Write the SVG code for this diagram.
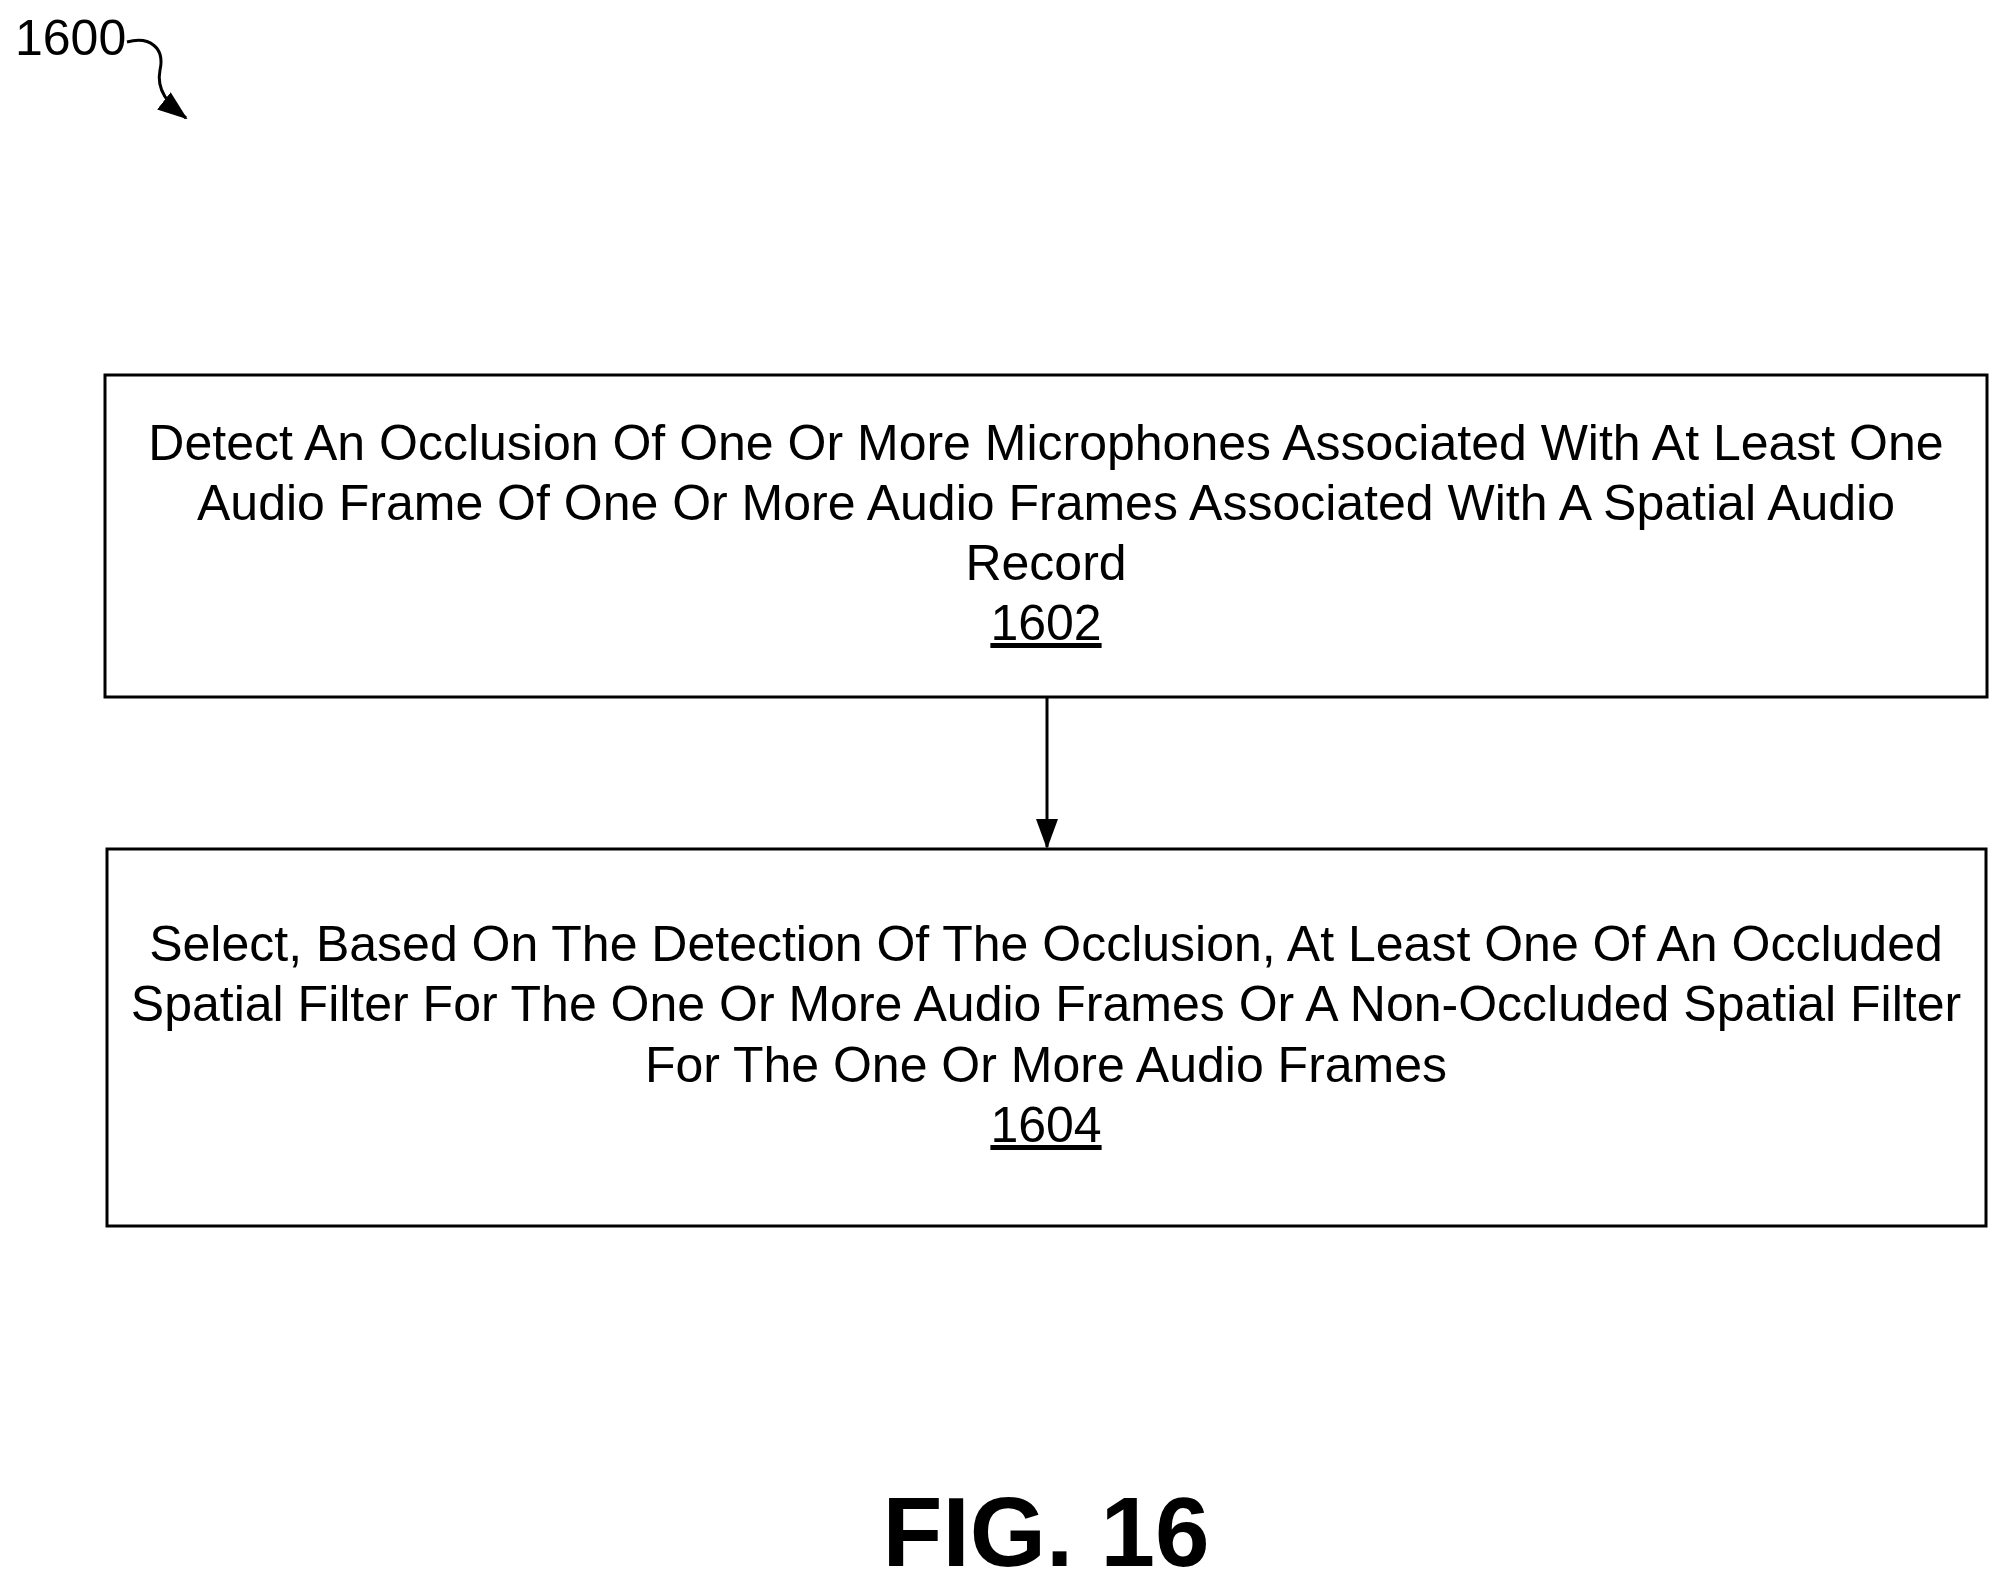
<svg xmlns="http://www.w3.org/2000/svg" width="2010" height="1583" viewBox="0 0 2010 1583">
<style>
.box{fill:#fff;stroke:#000;stroke-width:3}
.t{font-family:"Liberation Sans",Arial,sans-serif;font-size:50px;text-anchor:middle;fill:#000}
.c{stroke:#000;stroke-width:3;fill:none}
</style>
<defs>
<marker id="ah2" markerWidth="30" markerHeight="30" refX="28" refY="15" orient="auto" markerUnits="userSpaceOnUse" viewBox="0 0 30 30"><path d="M0,4 L30,15 L0,26 z" fill="#000"/></marker></defs>
<rect width="2010" height="1583" fill="#fff"/>
<g id="label1600">
<text x="15" y="55" style="font-family:'Liberation Sans',Arial,sans-serif;font-size:50px">1600</text>
<path class="c" d="M127,42 C150,36 165,48 160,70 C156,90 168,104 186,118" stroke-width="2.5" marker-end="url(#ah2)"/>
</g>
<g id="n1602">
<rect class="box" x="105" y="375" width="1882" height="322"/>
<text class="t" x="1046" y="460">Detect An Occlusion Of One Or More Microphones Associated With At Least One</text>
<text class="t" x="1046" y="520">Audio Frame Of One Or More Audio Frames Associated With A Spatial Audio</text>
<text class="t" x="1046" y="580">Record</text>
<text class="t" x="1046" y="640" text-decoration="underline">1602</text>
</g>
<g id="n1604">
<rect class="box" x="107" y="849" width="1879" height="377"/>
<text class="t" x="1046" y="961">Select, Based On The Detection Of The Occlusion, At Least One Of An Occluded</text>
<text class="t" x="1046" y="1021">Spatial Filter For The One Or More Audio Frames Or A Non-Occluded Spatial Filter</text>
<text class="t" x="1046" y="1082">For The One Or More Audio Frames</text>
<text class="t" x="1046" y="1142" text-decoration="underline">1604</text>
</g>
<g id="connectors">
<line class="c" x1="1047" y1="697" x2="1047" y2="847" marker-end="url(#ah2)"/>
</g>
<text x="1046" y="1566" style="font-family:'Liberation Sans',Arial,sans-serif;font-size:98px;font-weight:bold;text-anchor:middle">FIG. 16</text>
</svg>
